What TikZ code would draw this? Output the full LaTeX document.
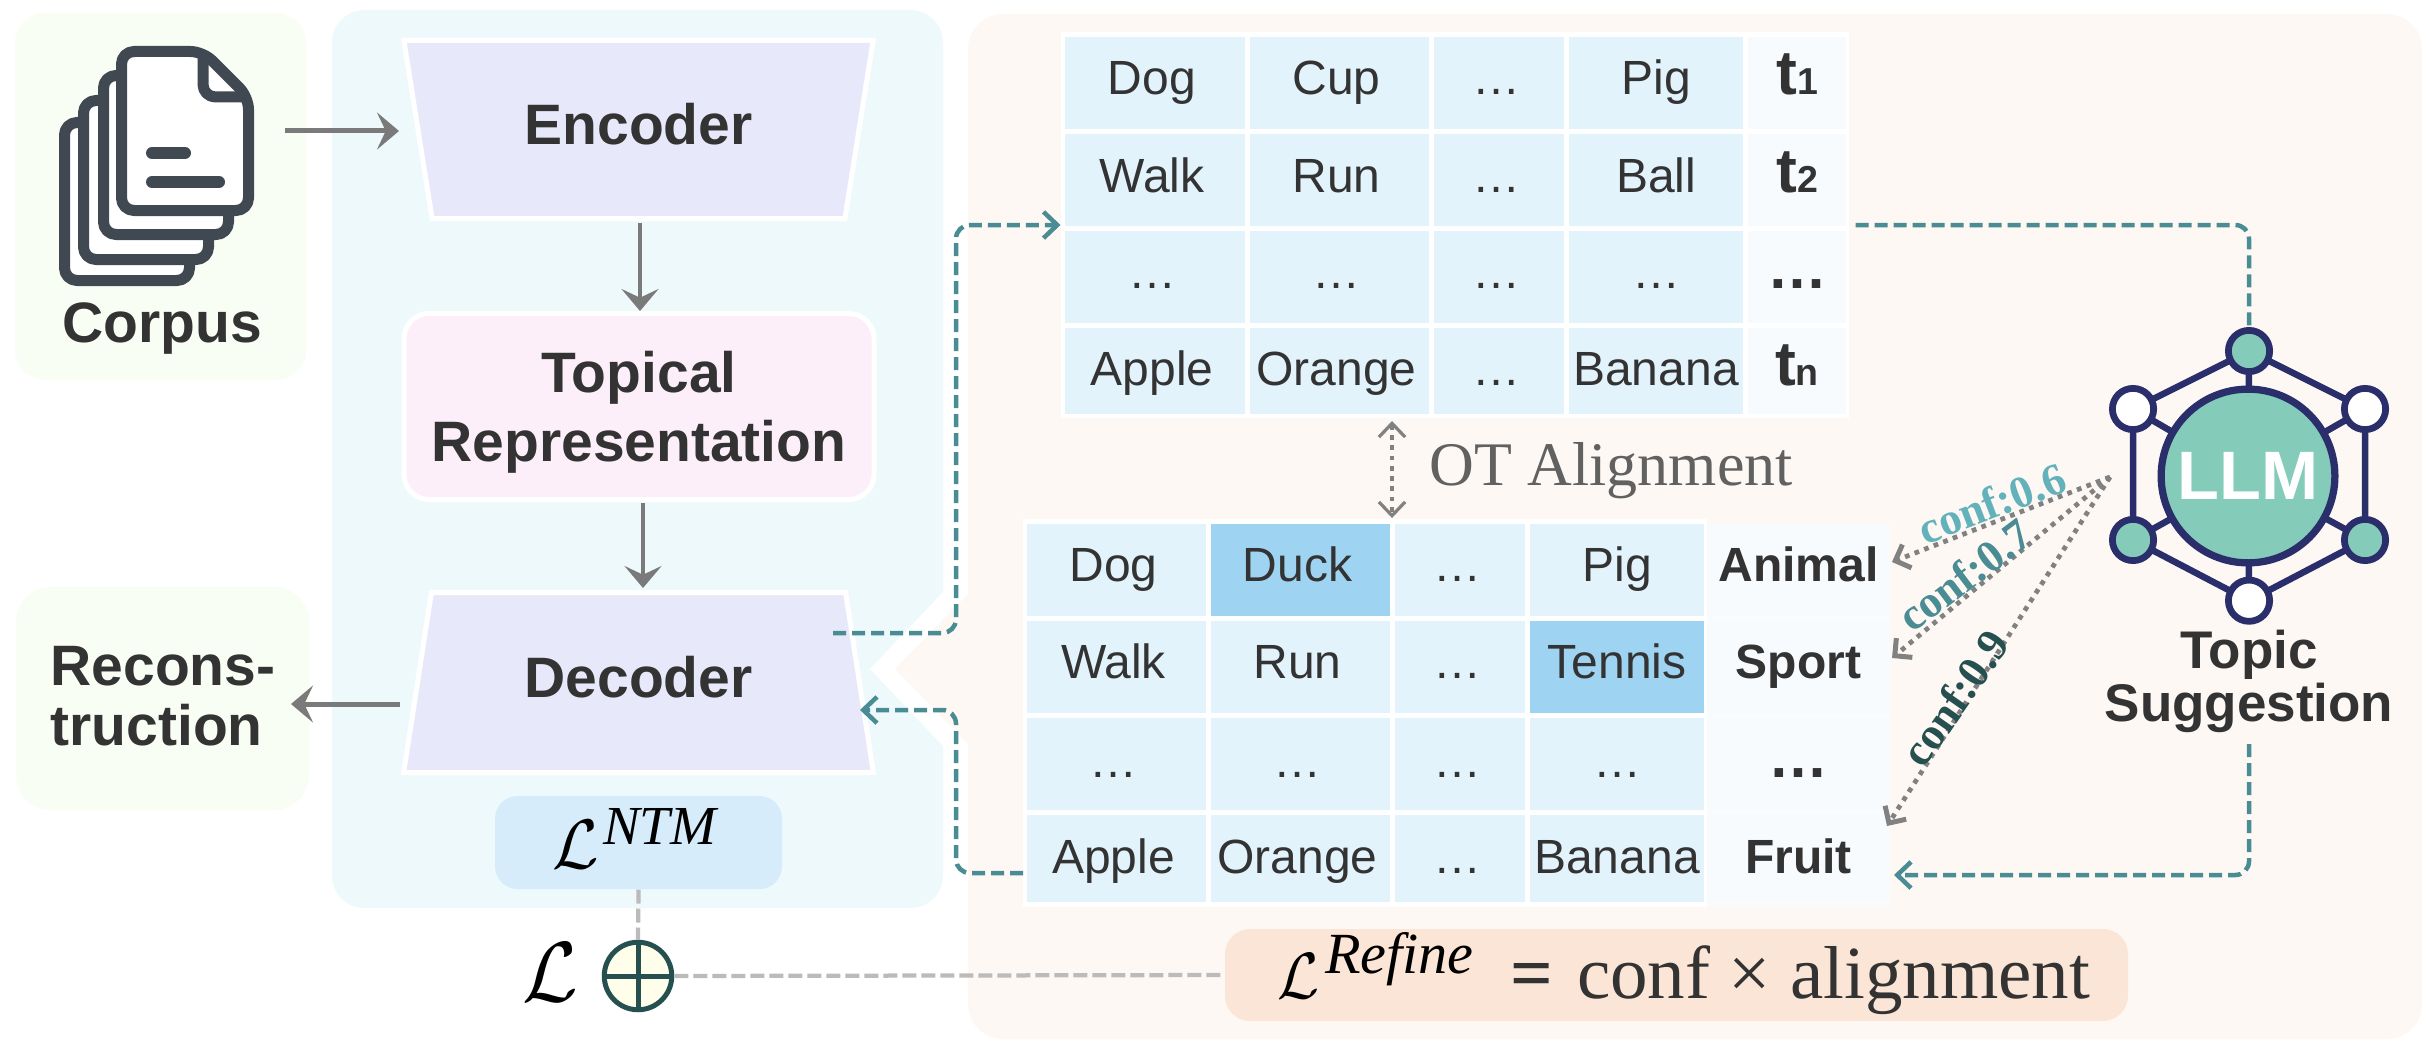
\documentclass[tikz,border=0pt]{standalone}
\usepackage{fontspec}
\setmainfont{Liberation Sans}
\newfontfamily\serifx{Liberation Serif}
\usetikzlibrary{arrows.meta,shapes.geometric}
\definecolor{ink}{HTML}{333333}
\definecolor{panelgreen}{HTML}{F9FEF5}
\definecolor{panelblue}{HTML}{EEF9FC}
\definecolor{panelorange}{HTML}{FEF8F4}
\definecolor{trap}{HTML}{E8E8FB}
\definecolor{pinkbox}{HTML}{FCEFFA}
\definecolor{lossblue}{HTML}{D6ECFA}
\definecolor{lossorange}{HTML}{FBE5D6}
\definecolor{cellA}{HTML}{E2F3FC}
\definecolor{cellB}{HTML}{F7FBFE}
\definecolor{cellH}{HTML}{9FD3F2}
\definecolor{arrowgray}{HTML}{7A7A7A}
\definecolor{tealdash}{HTML}{4A8C93}
\definecolor{dashgray}{HTML}{BBBBBB}
\definecolor{navy}{HTML}{2A2F6B}
\definecolor{mint}{HTML}{84CBBA}
\definecolor{conflight}{HTML}{63B1BB}
\definecolor{confdark}{HTML}{25504F}
\definecolor{docgray}{HTML}{404852}
\newcommand{\tsub}[1]{\fontsize{25}{26}\selectfont t\fontsize{15}{16}\selectfont #1}
\newcommand{\calL}[2]{\scalebox{#1}[#2]{\Huge\color{black}$\mathcal{L}$}}
\tikzset{
  x=0.4pt,y=-0.4pt,
  headtxt/.style={font=\fontsize{22.8}{27.6}\selectfont\bfseries,text=ink,align=center},
  trapbox/.style={trapezium,trapezium left angle=73,trapezium right angle=73,trapezium stretches=true,
    draw=white,line width=2pt,fill=trap,minimum width=188pt,inner sep=0pt,
    font=\fontsize{22.8}{27.6}\selectfont\bfseries,text=ink,text depth=4pt},
  grayarrow/.style={draw=arrowgray,-{Stealth[length=8.8pt,width=14.8pt,inset=3.5pt]}},
  tealarrow/.style={draw=tealdash,line width=1.8pt,dash pattern=on 5.2pt off 2.4pt,rounded corners=5.5pt,
    -{Straight Barb[length=5.5pt,width=10.5pt]}},
  tealline/.style={draw=tealdash,line width=1.8pt,dash pattern=on 5.2pt off 2.4pt,rounded corners=5.5pt},
  dotarrow/.style={draw=arrowgray!95,line width=1.9pt,dash pattern=on 1.9pt off 2.2pt,
    -{Straight Barb[length=5pt,width=10pt,line width=2pt]}},
  graydash/.style={draw=dashgray,line width=1.7pt,dash pattern=on 5.6pt off 2pt},
  cella/.style={fill=cellA,text=ink,font=\fontsize{19.2}{22}\selectfont},
  cellh/.style={fill=cellH,text=ink,font=\fontsize{19.2}{22}\selectfont},
  cellb/.style={fill=cellB,text=ink,font=\fontsize{19.2}{22}\selectfont\bfseries},
  hub/.style={circle,draw=navy,line width=2.7pt,minimum size=16.5pt,inner sep=0pt},
  docline/.style={draw=docgray,line width=4.4pt,line join=round},
  conflabel/.style={font=\serifx\bfseries\fontsize{18}{20}\selectfont,inner sep=0pt},
}
\begin{document}
\begin{tikzpicture}
\useasboundingbox (0,0) rectangle (2430,1052);
\fill[white] (0,0) rectangle (2430,1052);
% panels
\node[fill=panelgreen,rounded corners=12pt,minimum width=116.4pt,minimum height=146.8pt,inner sep=0pt] (corpuspanel) at (160.5,196.5) {};
\node[fill=panelgreen,rounded corners=14pt,minimum width=117.2pt,minimum height=89.2pt,inner sep=0pt] (reconpanel) at (162.5,698.5) {};
\node[fill=panelblue,rounded corners=13pt,minimum width=244.4pt,minimum height=359.2pt,inner sep=0pt] (bluepanel) at (637.5,459) {};
\fill[white] (945,590) -- (870,669) -- (945,748) -- cycle;
\node[fill=panelorange,rounded corners=14pt,minimum width=581.6pt,minimum height=410pt,inner sep=0pt] (orangepanel) at (1695,526.5) {};
\fill[panelorange] (970,592) -- (895,669) -- (970,746) -- cycle;

% corpus icon
\draw[docline,fill=white,rounded corners=5pt] (64.5,122.5) rectangle (189.5,280.5);
\draw[docline,fill=white,rounded corners=5pt] (83.5,100.5) rectangle (208.5,259.5);
\draw[docline,fill=white,rounded corners=5pt] (103.5,75.5) rectangle (228.5,234.5);
\draw[docline,fill=white,rounded corners=5pt] (121.5,51.5) -- (203,51.5) -- (248.5,97) -- (248.5,210.5) -- (121.5,210.5) -- cycle;
\draw[docline,rounded corners=5pt] (203,51.5) -- (203,97) -- (248.5,97);
\draw[docgray,line width=4.8pt,line cap=round] (152,153) -- (185,153);
\draw[docgray,line width=4.8pt,line cap=round] (152,182) -- (219,182);
\node[headtxt,anchor=base] (corpuslabel) at (162,342) {Corpus};

% left column
\node[trapbox,shape border rotate=180,minimum height=71.2pt,text height=16.4pt] (encoder) at (638.5,129.5) {Encoder};
\node[headtxt,fill=pinkbox,draw=white,line width=2pt,rounded corners=10pt,minimum width=188pt,minimum height=74.4pt,inner sep=0pt] (topical) at (639,406.5) {\rule{0pt}{21.4pt}Topical\\Representation};
\node[trapbox,minimum height=72pt,text height=16pt] (decoder) at (638.5,682.5) {Decoder};
\node[font=\fontsize{22.8}{24}\selectfont\bfseries,text=ink,align=left,anchor=north west,inner sep=0pt] (recon) at (50,646) {Recons-\\truction};
\node[fill=lossblue,rounded corners=9pt,minimum width=114.8pt,minimum height=37.2pt,inner sep=0pt,text depth=5pt,text height=25.4pt] (lossntm) at (638.5,842.5) {\makebox[114.8pt][l]{\rlap{\hspace*{23pt}\calL{1.085}{1.125}}\hspace*{43.2pt}\raisebox{9.6pt}{\serifx\itshape\fontsize{22}{24}\selectfont\color{black}NTM}}};
\node[inner sep=0pt] (lossL) at (550,972) {\calL{1.3}{1.37}};
\node[circle,draw=confdark,fill=yellow!8,line width=2pt,minimum size=27pt,inner sep=0pt] (plus) at (638,976) {};
\draw[confdark,line width=2pt] (plus.north) -- (plus.south);
\draw[confdark,line width=2pt] (plus.west) -- (plus.east);

% arrows left
\coordinate (corpusout) at (285,131);
\coordinate (encin) at (399,131);
\draw[grayarrow,line width=2pt] (corpusout) -- (encin);
\coordinate (encout) at (640,223);
\draw[grayarrow,line width=1.6pt] (encout) -- (topical.north -| encout);
\coordinate (repout) at (643,503);
\coordinate (decin) at (643,588);
\draw[grayarrow,line width=1.6pt] (repout) -- (decin);
\coordinate (decoutl) at (400,704);
\coordinate (reconin) at (291,704);
\draw[grayarrow,line width=2pt] (decoutl) -- (reconin);
\draw[graydash] (lossntm.south) -- (plus.north);

% upper table
\node[fill=white,minimum width=315.2pt,minimum height=154.4pt,inner sep=0pt] (uppertable) at (1455,225) {};
\foreach \rw/\yc/\hh/\off/\ca/\cb/\cc/\cd/\ce in {
  1/83/92/12/Dog/Cup/…/Pig/{\tsub{1}},
  2/180/92/12/Walk/Run/…/Ball/{\tsub{2}},
  3/277/92/11.5/…/…/…/…/{\fontsize{24}{26}\selectfont …},
  4/371/86/14/Apple/Orange/…/Banana/{\tsub{n}}}{
  \pgfmathsetmacro\thh{5+\off*0.8}
  \pgfmathsetmacro\chh{\hh*0.4}
  \foreach \cnum/\xc/\ww/\txt/\st/\sh in {1/1155/180/\ca/cella/-2.4,2/1339.5/179/\cb/cella/-2.4,3/1499/130/\cc/cella/-2.4,4/1656/174/\cd/cella/0,5/1797/98/\ce/cellb/0}{
    \pgfmathsetmacro\cww{\ww*0.4}
    \node[\st,inner sep=0pt,minimum width=\cww pt,minimum height=\chh pt,text depth=5pt,text height=\thh pt] (u\rw-\cnum) at (\xc,\yc) {\hspace*{\sh pt}\txt};
  }
}

% lower table
\node[fill=white,minimum width=273.6pt,minimum height=155.2pt,inner sep=0pt] (lowertable) at (1365,713) {};
\node[fill=cellB!70!white,minimum width=73.2pt,minimum height=152.4pt,inner sep=0pt] (lowerside) at (1798.5,714.5) {};
\foreach \rw/\yc/\hh/\off/\ca/\cb/\cc/\cd/\ce/\fb/\fd in {
  1/570/92/11/Dog/Duck/…/Pig/Animal/cellh/cella,
  2/667/92/11/Walk/Run/…/Tennis/Sport/cella/cellh,
  3/764/92/13/…/…/…/…/{\fontsize{24}{26}\selectfont …}/cella/cella,
  4/858.5/87/14.5/Apple/Orange/…/Banana/Fruit/cella/cella}{
  \pgfmathsetmacro\thh{5+\off*0.8}
  \pgfmathsetmacro\chh{\hh*0.4}
  \foreach \cnum/\xc/\ww/\txt/\st/\sh in {1/1116.5/179/\ca/cella/-2.4,2/1300.5/179/\cb/\fb/-2.4,3/1460/130/\cc/cella/-2.4,4/1617/174/\cd/\fd/0,5/1798.5/183/\ce/cellb/0}{
    \pgfmathsetmacro\cww{\ww*0.4}
    \node[\st,inner sep=0pt,minimum width=\cww pt,minimum height=\chh pt,text depth=5pt,text height=\thh pt] (l\rw-\cnum) at (\xc,\yc) {\hspace*{\sh pt}\txt};
  }
}

% OT alignment
\coordinate (otup) at (1392,421);
\coordinate (otdown) at (1392,518);
\draw[dotarrow,line width=1.3pt,{Straight Barb[length=5.5pt,width=10.5pt]}-{Straight Barb[length=5.5pt,width=10.5pt]}] (otup) -- (otdown);
\node[font=\serifx\fontsize{24.8}{28}\selectfont,text=black!62,anchor=base west,inner sep=0pt] (otlabel) at (1429,485) {OT Alignment};

% LLM icon
\coordinate (hc) at (2248,476);
\coordinate (ptop) at (2249,351);
\coordinate (pul) at (2133,409);
\coordinate (pur) at (2365,409);
\coordinate (pll) at (2133,540);
\coordinate (plr) at (2365,540);
\coordinate (pbot) at (2249,600.7);
\begin{scope}[draw=navy,line width=2.6pt]
\draw (ptop) -- (pul) -- (pll) -- (pbot) -- (plr) -- (pur) -- cycle;
\draw (ptop) -- (hc);\draw (pul) -- (hc);\draw (pur) -- (hc);\draw (pll) -- (hc);\draw (plr) -- (hc);\draw (pbot) -- (hc);
\end{scope}
\node[circle,draw=navy,line width=2.9pt,fill=mint,minimum size=69.5pt,inner sep=0pt,font=\fontsize{27.4}{30}\selectfont\bfseries,text=white] (llm) at (hc) {LLM};
\node[hub,fill=mint] (ntop) at (ptop) {};
\node[hub,fill=white] (nul) at (pul) {};
\node[hub,fill=white] (nur) at (pur) {};
\node[hub,fill=mint] (nll) at (pll) {};
\node[hub,fill=mint] (nlr) at (plr) {};
\node[hub,fill=white] (nbot) at (pbot) {};
\node[font=\fontsize{21.2}{21.2}\selectfont\bfseries,text=ink,align=center,anchor=base,inner sep=0pt] (topic) at (2249,721.5) {Topic\\Suggestion};

% teal connectors
\coordinate (decout) at (833,633);
\coordinate (viax) at (956,0);
\draw[tealarrow] (decout) -- (decout -| viax) -- (viax |- uppertable.west) -- (uppertable.west);
\coordinate (appleout) at (1023,873);
\coordinate (decinb) at (860,710);
\draw[tealarrow] (appleout) -- (appleout -| viax) -- (viax |- decinb) -- (decinb);
\draw[tealline] ([xshift=2.4pt]uppertable.east) -| (ntop.north);
\coordinate (topicout) at (2249,744);
\coordinate (fruitin) at (1894,875);
\draw[tealarrow] (topicout) |- (fruitin);

% confidence arrows
\coordinate (src) at (2110,477);
\coordinate (animalin) at (1892,562);
\coordinate (sportin) at (1892,658);
\coordinate (fruittip) at (1887,826);
\draw[dotarrow] (src) -- (animalin);
\draw[dotarrow] (src) -- (sportin);
\draw[dotarrow] (src) -- (fruittip);
\node[conflabel,text=conflight,rotate=21] (c6) at (1992,503) {conf:0.6};
\node[conflabel,text=tealdash,rotate=37] (c7) at (1965,575) {conf:0.7};
\node[conflabel,text=confdark,rotate=55] (c9) at (1955,698) {conf:0.9};

% refine loss
\node[fill=lossorange,rounded corners=10pt,minimum width=361.2pt,minimum height=36.8pt,inner sep=0pt,font=\serifx\fontsize{30}{32}\selectfont,text=ink,text depth=5pt,text height=23.4pt] (lossrefine) at (1676.5,975) {\makebox[361.2pt][l]{\rlap{\hspace*{21pt}\calL{0.98}{1.05}}\rlap{\hspace*{40pt}\raisebox{10pt}{\itshape\fontsize{23.3}{25}\selectfont\color{black}Refine}}\rlap{\hspace*{114pt}\bfseries =}\hspace*{140.8pt}conf × alignment}};
\draw[graydash] (plus.east) -- (lossrefine.west);
\end{tikzpicture}
\end{document}
